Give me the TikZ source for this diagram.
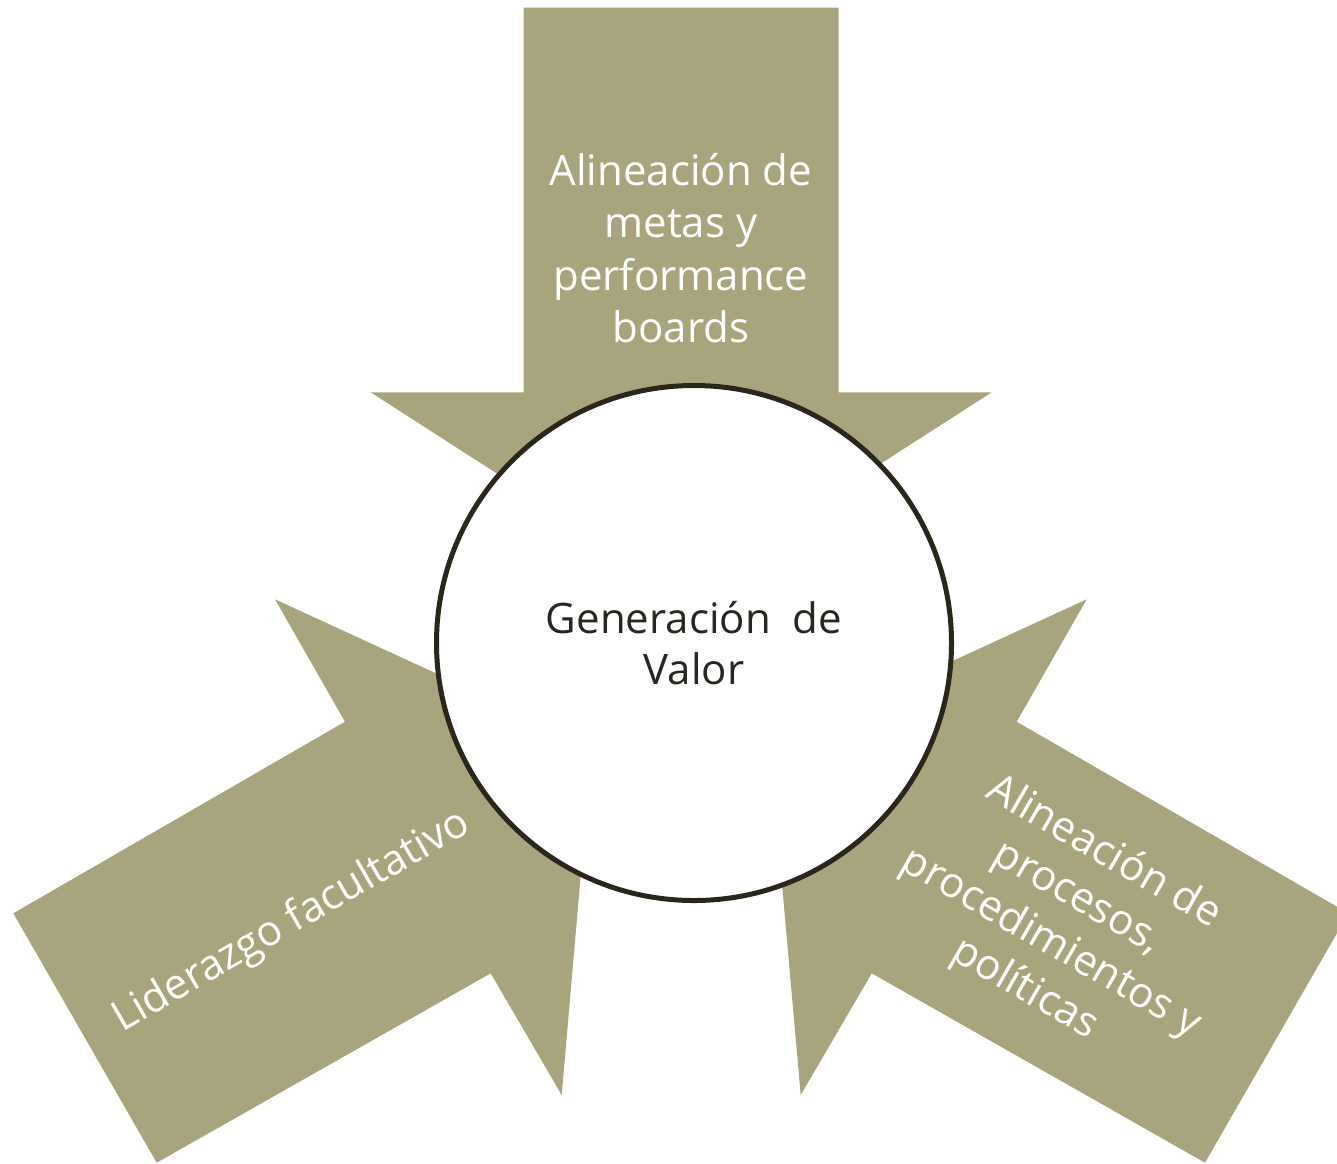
\documentclass[tikz,border=0pt]{standalone}
\usepackage{fontspec}
\setmainfont{Open Sans}
\definecolor{olive}{RGB}{168,165,124}
\definecolor{ringcol}{RGB}{43,38,28}
\definecolor{txtdark}{RGB}{40,38,30}
\begin{document}
\begin{tikzpicture}[x=1pt,y=-1pt,
  arrowshape/.style={fill=olive,draw=none},
  arrowtext/.style={text=white,align=center,font=\fontsize{42}{52.5}\selectfont,inner sep=0pt},
  hub/.style={circle,draw=ringcol,line width=5pt,fill=white,minimum size=515pt,inner sep=0pt,
    text=txtdark,align=center,font=\fontsize{42}{51}\selectfont}]
\useasboundingbox (0,0) rectangle (1337,1163);
% top arrow
\fill[arrowshape] (523.5,7.5) -- (838.5,7.5) -- (838.5,392.3) -- (991.7,392.3) -- (681,592)
  -- (370.7,392.3) -- (523.5,392.3) -- cycle;
% left arrow
\fill[arrowshape] (13.3,913.3) -- (345,721.7) -- (275,599.3) -- (592,745) -- (561.7,1095)
  -- (490.7,973.3) -- (156.7,1162.7) -- cycle;
% right arrow
\fill[arrowshape] (1348.4,913.3) -- (1016.7,721.7) -- (1086.7,599.3) -- (769.7,745) -- (800.7,1095)
  -- (871.7,973.3) -- (1205,1162.7) -- cycle;
% hub
\node[hub] (hub) at (694,643) {Generación~~de\\Valor};
% texts
\node[arrowtext] (ttop) at (681,248) {Alineación de\\metas y\\performance\\boards};
\node[arrowtext,rotate=30] (tleft) at (292,922) {Liderazgo facultativo};
\node[arrowtext,rotate=-30] (tright) at (1064,921) {Alineación de\\procesos,\\procedimientos y\\políticas};
\end{tikzpicture}
\end{document}
